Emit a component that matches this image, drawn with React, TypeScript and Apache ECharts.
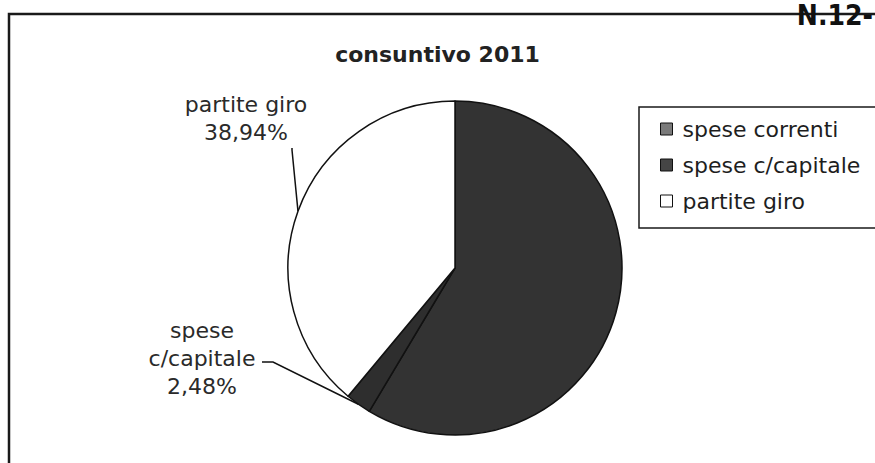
import React, { useEffect, useRef } from "react";
import * as echarts from "echarts";

const title = "consuntivo 2011";
const categories = ["spese correnti", "spese c/capitale", "partite giro"];
const values = [58.58, 2.48, 38.94];
const labelNames = ["", "spese\nc/capitale", "partite giro"];
const showLabel = [false, true, true];
const sliceColors = ["#333333", "#2e2e2e", "#ffffff"];
const legendIconColors = ["#7a7a7a", "#454545", "#ffffff"];
const handNote = "N.12-";

const FONT = "'DejaVu Sans', 'Liberation Sans', sans-serif";

export default function App() {
  const ref = useRef<HTMLDivElement>(null);

  useEffect(() => {
    const chart = echarts.init(ref.current as HTMLDivElement, null, { renderer: "svg" });
    const labelPos: Record<number, { x: number; y: number; elbow?: number[][] }> = {
      1: { x: 202, y: 358, elbow: [[262, 362], [273, 362]] },
      2: { x: 246, y: 118, elbow: [[292, 148], [292, 150]] },
    };
    chart.setOption({
      animation: false,
      backgroundColor: "#ffffff",
      title: {
        text: title,
        left: "center",
        top: 38,
        textStyle: { fontFamily: FONT, fontSize: 22, fontWeight: "bold", color: "#222" },
      },
      legend: {
        orient: "vertical",
        left: 660,
        top: 118,
        padding: 0,
        itemWidth: 12,
        itemHeight: 12,
        itemGap: 14,
        icon: "rect",
        selectedMode: false,
        textStyle: { fontFamily: FONT, fontSize: 22, color: "#1e1e1e", padding: [0, 0, 0, 5] },
        data: categories.map((c, i) => ({
          name: c,
          itemStyle: { color: legendIconColors[i], borderColor: "#111", borderWidth: 1 },
        })),
      },
      graphic: [
        {
          type: "rect",
          shape: { x: 9, y: 14, width: 900, height: 500 },
          style: { fill: "none", stroke: "#1a1a1a", lineWidth: 2.5 },
          silent: true,
          z: -1,
        },
        {
          type: "rect",
          shape: { x: 639, y: 107, width: 300, height: 121 },
          style: { fill: "none", stroke: "#1a1a1a", lineWidth: 1.5 },
          silent: true,
        },
        {
          type: "text",
          x: 873,
          y: 1,
          style: {
            text: handNote,
            fontSize: 28,
            fontWeight: "bold",
            fontFamily: "'Liberation Sans Narrow', 'DejaVu Sans Condensed', sans-serif",
            fill: "#111",
            align: "right",
            verticalAlign: "top",
          },
          silent: true,
        },
      ],
      series: [
        {
          type: "pie",
          center: [455, 268],
          radius: 167,
          startAngle: 90,
          clockwise: true,
          avoidLabelOverlap: false,
          itemStyle: { borderColor: "#111", borderWidth: 1.5 },
          emphasis: { disabled: true },
          label: {
            fontFamily: FONT,
            fontSize: 22,
            lineHeight: 28,
            color: "#2a2a2a",
            align: "center",
            formatter: (p: any) =>
              `${labelNames[p.dataIndex]}\n${Number(p.value).toFixed(2).replace(".", ",")}%`,
          },
          labelLine: { show: true, lineStyle: { color: "#111", width: 1.5 } },
          labelLayout: (p: any) => {
            const pos = labelPos[p.dataIndex];
            if (!pos) return {};
            const anchor = p.labelLinePoints ? p.labelLinePoints[0] : pos.elbow![1];
            return {
              x: pos.x,
              y: pos.y,
              align: "center",
              verticalAlign: "middle",
              labelLinePoints: [pos.elbow![0], pos.elbow![1], anchor],
            };
          },
          data: categories.map((c, i) => ({
            name: c,
            value: values[i],
            itemStyle: { color: sliceColors[i] },
            label: { show: showLabel[i] },
            labelLine: { show: showLabel[i] },
          })),
        },
      ],
    });
    return () => chart.dispose();
  }, []);

  return (
    <div
      ref={ref}
      style={{ position: "fixed", left: 0, top: 0, width: 875, height: 463, background: "#fff" }}
    />
  );
}
